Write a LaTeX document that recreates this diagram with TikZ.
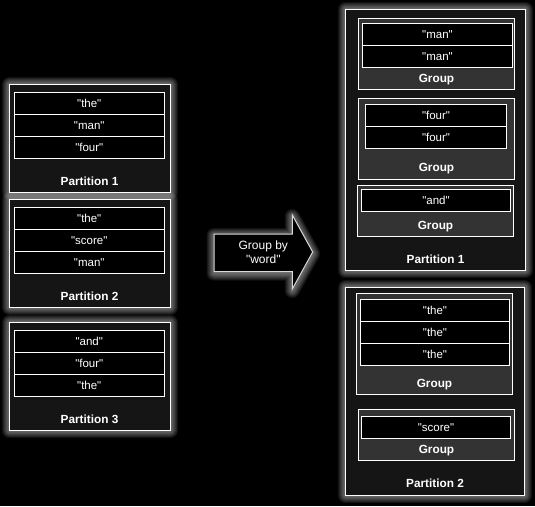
\documentclass[tikz,border=0pt]{standalone}
\usepackage{fontspec}
\setmainfont{Liberation Sans}[Ligatures=TeXOff]
\usetikzlibrary{backgrounds}
\definecolor{partgray}{HTML}{151515}
\definecolor{groupgray}{HTML}{333333}
\newcommand\wordfont{\fontsize{11.5}{13}\selectfont}
\newcommand\labfont{\fontsize{11.8}{13}\selectfont\bfseries}
\newcommand\arrowfont{\fontsize{12}{14.3}\selectfont}
\tikzset{
  boxbase/.style={draw=white, line width=1pt, inner sep=0pt, outer sep=0pt, anchor=north west},
  partbox/.style={boxbase, fill=partgray},
  groupbox/.style={boxbase, fill=groupgray},
  wordbox/.style={boxbase, fill=black, text=white, font=\wordfont, minimum height=22pt},
  lab/.style={text=white, font=\labfont, anchor=base, inner sep=0pt},
  glowline/.style={draw=white, opacity=0.07, line join=round},
}
\newcommand\glowof[1]{%
  \foreach \w in {15,13,11,9,7,5,3}{%
    \draw[glowline, line width=\w pt, yshift=-1.5pt] (#1.north west) rectangle (#1.south east);}}
\begin{document}
\begin{tikzpicture}[x=1pt, y=-1pt]
\useasboundingbox (0,0) rectangle (535,506);

% ---------- left partitions ----------
\node[partbox, minimum width=160.5pt, minimum height=108pt] (lp1) at (9.5,84.5) {};
\node[wordbox, minimum width=150.5pt] (lp1a) at (14,92.5) {"the"};
\node[wordbox, minimum width=150.5pt] (lp1b) at (14,114.5) {"man"};
\node[wordbox, minimum width=150.5pt] (lp1c) at (14,136.5) {"four"};
\node[lab] (lp1l) at (89.5,185) {Partition 1};

\node[partbox, minimum width=160.5pt, minimum height=108pt] (lp2) at (9.5,199.5) {};
\node[wordbox, minimum width=150.5pt] (lp2a) at (14,207.5) {"the"};
\node[wordbox, minimum width=150.5pt] (lp2b) at (14,229.5) {"score"};
\node[wordbox, minimum width=150.5pt] (lp2c) at (14,251.5) {"man"};
\node[lab] (lp2l) at (89.5,300) {Partition 2};

\node[partbox, minimum width=160.5pt, minimum height=108pt] (lp3) at (9.5,322.5) {};
\node[wordbox, minimum width=150.5pt] (lp3a) at (14,330.5) {"and"};
\node[wordbox, minimum width=150.5pt] (lp3b) at (14,352.5) {"four"};
\node[wordbox, minimum width=150.5pt] (lp3c) at (14,374.5) {"the"};
\node[lab] (lp3l) at (89.5,423) {Partition 3};

% ---------- arrow ----------
\begin{pgfonlayer}{background}
\fill[black] (0,0) rectangle (535,506);
\foreach \w in {15,13,11,9,7,5,3}{%
  \draw[glowline, line width=\w pt, yshift=-1.5pt]
    (214,234) -- (292.3,234) -- (292.3,215) -- (312.7,252) -- (292.3,289) -- (292.3,271.5) -- (214,271.5) -- cycle;}
\glowof{lp1}\glowof{lp2}\glowof{lp3}
\end{pgfonlayer}
\draw[draw=white!85!black, line width=1pt, fill=black, line join=miter]
  (214,234) -- (292.3,234) -- (292.3,215) -- (312.7,252) -- (292.3,289) -- (292.3,271.5) -- (214,271.5) -- cycle;
\node[text=white, font=\arrowfont, align=center, inner sep=0pt] (arrowtext) at (263.3,252.5) {Group by\\"word"};

% ---------- right partition 1 ----------
\node[partbox, minimum width=180pt, minimum height=261pt] (rp1) at (345.5,9.5) {};
\node[groupbox, minimum width=156pt, minimum height=71pt] (g11) at (358.5,18.5) {};
\node[wordbox, minimum width=150pt] (g11a) at (362.5,23.5) {"man"};
\node[wordbox, minimum width=150pt] (g11b) at (362.5,45.5) {"man"};
\node[lab] (g11l) at (436.5,82) {Group};

\node[groupbox, minimum width=156pt, minimum height=81pt] (g12) at (358.5,98.5) {};
\node[wordbox, minimum width=141pt] (g12a) at (365.5,104.5) {"four"};
\node[wordbox, minimum width=141pt] (g12b) at (365.5,126.5) {"four"};
\node[lab] (g12l) at (436.5,171.5) {Group};

\node[groupbox, minimum width=156pt, minimum height=51pt] (g13) at (357.5,185.5) {};
\node[wordbox, minimum width=149pt] (g13a) at (361.5,189.5) {"and"};
\node[lab] (g13l) at (435.5,229) {Group};

\node[lab] (rp1l) at (435.5,263.5) {Partition 1};

% ---------- right partition 2 ----------
\node[partbox, minimum width=179pt, minimum height=208pt] (rp2) at (345.5,287.5) {};
\node[groupbox, minimum width=156pt, minimum height=101pt] (g21) at (356.5,293.5) {};
\node[wordbox, minimum width=149pt] (g21a) at (360.5,299.5) {"the"};
\node[wordbox, minimum width=149pt] (g21b) at (360.5,321.5) {"the"};
\node[wordbox, minimum width=149pt] (g21c) at (360.5,343.5) {"the"};
\node[lab] (g21l) at (434.5,387) {Group};

\node[groupbox, minimum width=156pt, minimum height=51pt] (g22) at (358.5,409.5) {};
\node[wordbox, minimum width=149pt] (g22a) at (361.5,416.5) {"score"};
\node[lab] (g22l) at (436.5,453) {Group};

\node[lab] (rp2l) at (435,487.5) {Partition 2};

\begin{pgfonlayer}{background}
\glowof{rp1}\glowof{rp2}
\end{pgfonlayer}
\end{tikzpicture}
\end{document}
